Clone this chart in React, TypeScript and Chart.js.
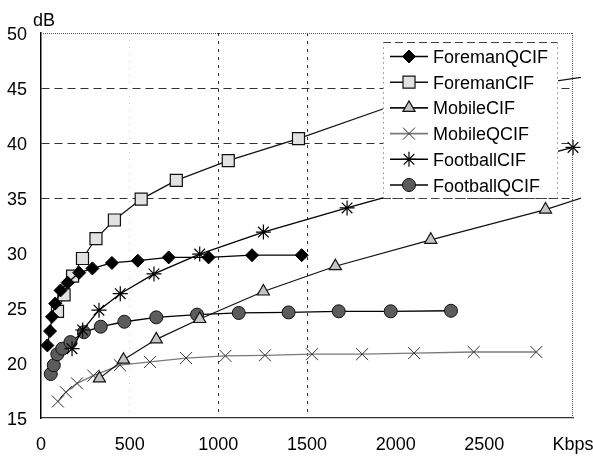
import React, { useEffect, useRef } from 'react';
import { Chart, registerables } from 'chart.js';
import { drawPoint } from 'chart.js/helpers';

Chart.register(...registerables);

// ---------- data ----------
const xTicks = [0, 500, 1000, 1500, 2000, 2500, 3000];
const yTicks = [15, 20, 25, 30, 35, 40, 45, 50];
const xUnit = 'Kbps';
const yUnit = 'dB';

const seriesNames = ['ForemanQCIF', 'ForemanCIF', 'MobileCIF', 'MobileQCIF', 'FootballCIF', 'FootballQCIF'];

const foremanQcifKbps = [36, 51, 62, 80, 110, 150, 215, 290, 400, 546, 720, 945, 1190, 1470];
const foremanQcifDb = [21.6, 22.9, 24.2, 25.4, 26.6, 27.3, 28.2, 28.6, 29.1, 29.3, 29.6, 29.6, 29.8, 29.8];

const foremanCifKbps = [93, 130, 178, 234, 310, 414, 565, 763, 1056, 1452, 2000, 3100];
const foremanCifDb = [24.7, 26.2, 27.9, 29.5, 31.3, 33.0, 34.9, 36.6, 38.4, 40.4, 43.5, 46.1];

const mobileCifKbps = [329, 465, 650, 895, 1254, 1660, 2198, 2845, 3200];
const mobileCifDb = [18.6, 20.3, 22.15, 24.0, 26.5, 28.8, 31.2, 33.95, 35.8];

const mobileQcifKbps = [95, 140, 203, 295, 445, 615, 818, 1040, 1263, 1528, 1811, 2104, 2440, 2793];
const mobileQcifDb = [16.5, 17.35, 18.15, 18.85, 19.8, 20.1, 20.45, 20.65, 20.7, 20.8, 20.8, 20.9, 21.0, 21.0];

const footballCifKbps = [175, 235, 327, 447, 637, 895, 1254, 1726, 2350, 3000];
const footballCifDb = [21.3, 23.0, 24.8, 26.3, 28.1, 29.9, 31.9, 34.1, 36.9, 39.6];

const footballQcifKbps = [55, 72, 92, 120, 166, 242, 337, 470, 650, 880, 1115, 1396, 1679, 1972, 2312];
const footballQcifDb = [19.0, 19.8, 20.8, 21.3, 21.9, 22.8, 23.3, 23.75, 24.15, 24.4, 24.55, 24.6, 24.7, 24.7, 24.75];

const seriesX = [foremanQcifKbps, foremanCifKbps, mobileCifKbps, mobileQcifKbps, footballCifKbps, footballQcifKbps];
const seriesY = [foremanQcifDb, foremanCifDb, mobileCifDb, mobileQcifDb, footballCifDb, footballQcifDb];

// ---------- styles ----------
const FONT = '"Liberation Sans", Arial, sans-serif';
const styles = [
  { pointStyle: 'rectRot', radius: 6.5, bg: '#000000', border: '#000000', bw: 1, line: '#000000', lw: 1.3 },
  { pointStyle: 'rect', radius: 8.5, bg: '#e2e2e2', border: '#111111', bw: 1.2, line: '#111111', lw: 1.2 },
  { pointStyle: 'triangle', radius: 7, bg: '#c4c4c4', border: '#111111', bw: 1.2, line: '#111111', lw: 1.2 },
  { pointStyle: 'crossRot', radius: 8.5, bg: '#333333', border: '#333333', bw: 1, line: '#7a7a7a', lw: 1.3 },
  { pointStyle: 'star', radius: 7.5, bg: '#000000', border: '#000000', bw: 1.2, line: '#000000', lw: 1.3 },
  { pointStyle: 'circle', radius: 6.5, bg: '#5c5c5c', border: '#111111', bw: 1, line: '#000000', lw: 1.3 },
];

const visibleYGrid = [35, 40, 45];
const visibleXGrid = [1000, 1500];
const faintXGrid = [500];

const framePlugin = {
  id: 'frameAndLegend',
  afterDraw(chart: any) {
    const { ctx, chartArea } = chart;
    const { left, right, top, bottom } = chartArea;
    ctx.save();

    // legend box
    const bx = 383, by = 42, br = 558, bb = 198;
    ctx.fillStyle = '#ffffff';
    ctx.fillRect(bx, by, br - bx, bb - by);
    ctx.strokeStyle = '#444';
    ctx.lineWidth = 1;
    ctx.setLineDash([8, 4]);
    ctx.beginPath();
    ctx.moveTo(bx, by + 0.5);
    ctx.lineTo(br, by + 0.5);
    ctx.moveTo(bx, bb + 0.5);
    ctx.lineTo(br, bb + 0.5);
    ctx.stroke();
    ctx.strokeStyle = '#aaa';
    ctx.setLineDash([2, 3]);
    ctx.beginPath();
    ctx.moveTo(bx + 0.5, by);
    ctx.lineTo(bx + 0.5, bb);
    ctx.moveTo(br - 0.5, by);
    ctx.lineTo(br - 0.5, bb);
    ctx.stroke();
    ctx.setLineDash([]);

    const rowBase = 63;
    const rowStep = 25.7;
    seriesNames.forEach((name, i) => {
      const s = styles[i];
      const cy = rowBase + rowStep * i - 6.5;
      ctx.strokeStyle = s.line;
      ctx.lineWidth = 1.6;
      ctx.beginPath();
      ctx.moveTo(390, cy);
      ctx.lineTo(428, cy);
      ctx.stroke();
      ctx.fillStyle = s.bg;
      ctx.strokeStyle = s.border;
      ctx.lineWidth = s.bw;
      drawPoint(ctx, { pointStyle: s.pointStyle, radius: s.radius, rotation: 0, borderWidth: s.bw }, 409, cy);
      ctx.fillStyle = '#000';
      ctx.font = '18px ' + FONT;
      ctx.textAlign = 'left';
      ctx.textBaseline = 'alphabetic';
      ctx.fillText(name, 433, rowBase + rowStep * i);
    });

    // top & right dotted frame
    ctx.strokeStyle = '#555';
    ctx.lineWidth = 1;
    ctx.setLineDash([1, 1]);
    ctx.beginPath();
    ctx.moveTo(left, top + 0.5);
    ctx.lineTo(right, top + 0.5);
    ctx.moveTo(right - 0.5, top);
    ctx.lineTo(right - 0.5, bottom);
    ctx.stroke();
    ctx.setLineDash([]);

    // unit label
    ctx.fillStyle = '#000';
    ctx.font = '18px ' + FONT;
    ctx.textAlign = 'center';
    ctx.textBaseline = 'alphabetic';
    ctx.fillText(yUnit, 44, 26);
    ctx.restore();
  },
};

export default function App() {
  const ref = useRef<HTMLCanvasElement>(null);
  useEffect(() => {
    document.body.style.margin = '0';
    const canvas = ref.current as HTMLCanvasElement;
    const datasets = seriesNames.map((name, i) => {
      const s = styles[i];
      return {
        label: name,
        data: seriesX[i].map((x, j) => ({ x, y: seriesY[i][j] })),
        borderColor: s.line,
        borderWidth: s.lw,
        backgroundColor: s.bg,
        pointStyle: s.pointStyle,
        pointRadius: s.radius,
        pointBackgroundColor: s.bg,
        pointBorderColor: s.border,
        pointBorderWidth: s.bw,
        tension: 0,
        fill: false,
        clip: { left: 10, top: 10, right: 8, bottom: 10 },
      };
    });
    const chart = new Chart(canvas, {
      type: 'line',
      data: { datasets },
      options: {
        responsive: false,
        animation: false,
        devicePixelRatio: 1,
        events: [],
        layout: { padding: { top: 33, right: 20, left: 0, bottom: 0 } },
        plugins: { legend: { display: false }, tooltip: { enabled: false } },
        scales: {
          x: {
            type: 'linear',
            min: xTicks[0],
            max: xTicks[xTicks.length - 1],
            afterBuildTicks: (s: any) => {
              s.ticks = xTicks.map((v) => ({ value: v }));
            },
            afterFit: (s: any) => {
              s.height = 40;
              s.paddingLeft = 0;
              s.paddingRight = 0;
            },
            ticks: {
              autoSkip: false,
              maxRotation: 0,
              padding: 16,
              color: '#000',
              font: { family: FONT, size: 18 },
              callback: (v: any) => (v === xTicks[xTicks.length - 1] ? xUnit : String(v)),
            },
            grid: {
              drawTicks: false,
              lineWidth: 1,
              color: (c: any) => {
                const v = c.tick && c.tick.value;
                if (visibleXGrid.includes(v)) return '#333';
                if (faintXGrid.includes(v)) return '#cfcfcf';
                return 'rgba(0,0,0,0)';
              },
            },
            border: {
              display: true,
              color: '#333',
              width: 1.2,
              dash: (c: any) => (c.tick && faintXGrid.includes(c.tick.value) ? [1, 6] : [3, 5]),
            },
          },
          y: {
            type: 'linear',
            min: yTicks[0],
            max: yTicks[yTicks.length - 1],
            afterBuildTicks: (s: any) => {
              s.ticks = yTicks.map((v) => ({ value: v }));
            },
            afterFit: (s: any) => {
              s.width = 41;
              s.paddingTop = 0;
              s.paddingBottom = 0;
            },
            ticks: {
              padding: 14,
              labelOffset: 2,
              color: '#000',
              font: { family: FONT, size: 18 },
              callback: (v: any) => String(v),
            },
            grid: {
              drawTicks: false,
              lineWidth: 1,
              color: (c: any) => {
                const v = c.tick && c.tick.value;
                return visibleYGrid.includes(v) ? '#333' : 'rgba(0,0,0,0)';
              },
            },
            border: {
              display: true,
              color: '#000',
              width: 1.5,
              dash: [8, 5],
            },
          },
        },
      },
      plugins: [framePlugin],
    } as any);
    return () => chart.destroy();
  }, []);
  return (
    <div style={{ position: 'fixed', left: 0, top: 0, width: 593, height: 458, background: '#fff' }}>
      <canvas ref={ref} width={593} height={458} style={{ display: 'block', width: 593, height: 458 }} />
    </div>
  );
}
